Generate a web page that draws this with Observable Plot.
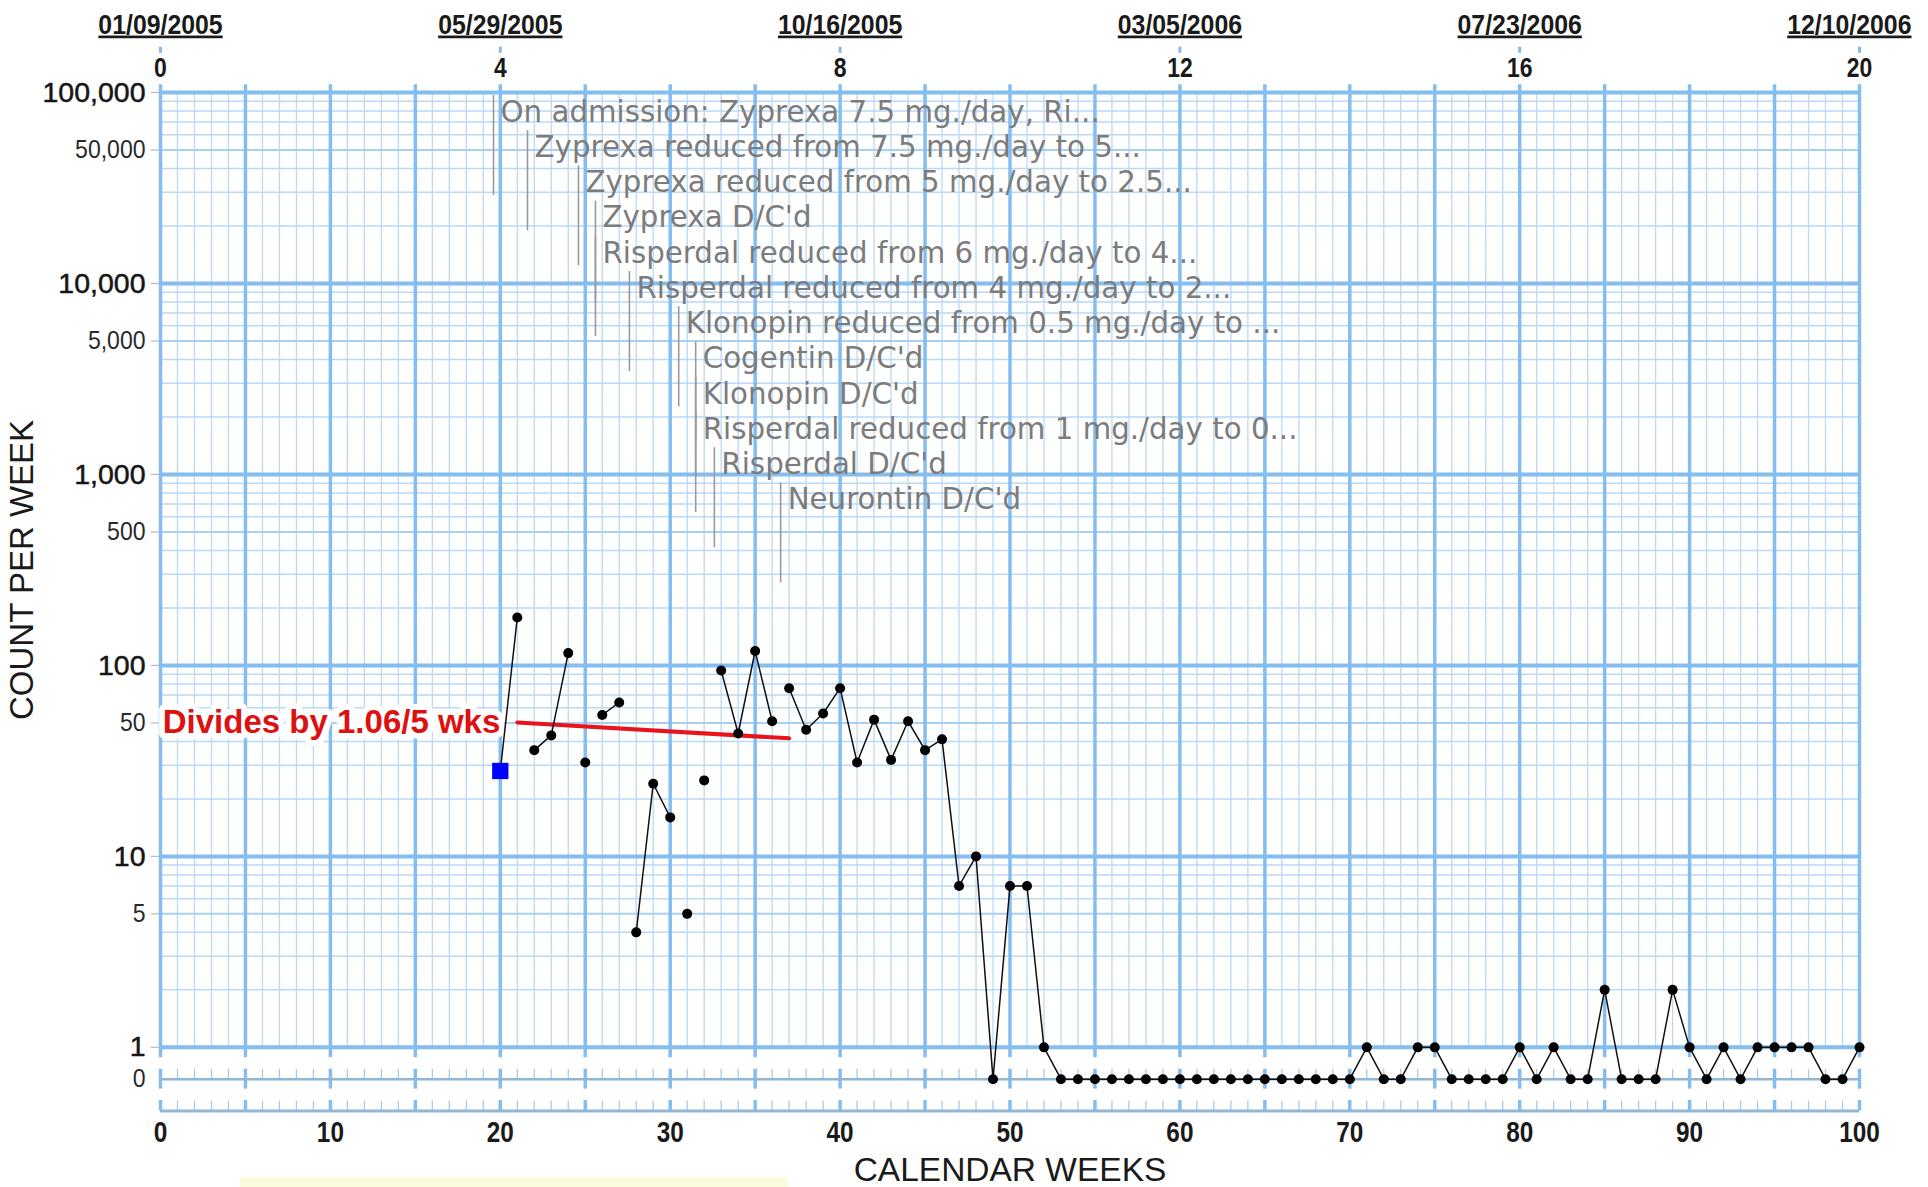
<!DOCTYPE html>
<html><head><meta charset="utf-8">
<script src="https://cdn.jsdelivr.net/npm/d3@7"></script>
<script src="https://cdn.jsdelivr.net/npm/@observablehq/plot@0.6"></script>
<style>
body{margin:0;background:#fff;}
#chart{position:relative;width:1928px;height:1187px;overflow:hidden;}
#chart svg{display:block;}
.note-box{position:absolute;left:240px;top:1177px;width:548px;height:14px;background:#fcfadc;}
</style></head><body><div id="chart"></div>
<script>
// ---------- data ----------
const weeks = [20,21,22,23,24,25,26,27,28,29,30,31,32,33,34,35,36,37,38,39,40,41,42,43,44,45,46,47,48,49,50,51,52,
  53,54,55,56,57,58,59,60,61,62,63,64,65,66,67,68,69,70,
  71,72,73,74,75,76,77,78,79,80,81,82,83,84,85,86,87,88,89,90,91,92,93,94,95,96,97,98,99,100];
const counts = [28,178,36,43,116,31,55,64,4,24,16,5,25,94,44,119,51,76,46,56,76,31,52,32,51,36,41,7,10,0,7,7,1,
  0,0,0,0,0,0,0,0,0,0,0,0,0,0,0,0,0,0,
  1,0,0,1,1,0,0,0,0,1,0,1,0,0,2,0,0,0,2,1,0,1,0,1,1,1,1,0,0,1];
// weeks where a new (unconnected) line segment begins
const segmentStarts = [20,22,25,26,28,31,32,33,37];

const celerationWeeks = [21, 37];
const celerationCounts = [50.3, 41.5];
const celerationLabel = "Divides by 1.06/5 wks";

const noteWeeks = [19.6, 21.6, 24.6, 25.6, 25.6, 27.6, 30.5, 31.5, 31.5, 31.5, 32.6, 36.5];
const noteTexts = [
  "On admission: Zyprexa 7.5 mg./day, Ri...",
  "Zyprexa reduced from 7.5 mg./day to 5...",
  "Zyprexa reduced from 5 mg./day to 2.5...",
  "Zyprexa D/C'd",
  "Risperdal reduced from 6 mg./day to 4...",
  "Risperdal reduced from 4 mg./day to 2...",
  "Klonopin reduced from 0.5 mg./day to ...",
  "Cogentin D/C'd",
  "Klonopin D/C'd",
  "Risperdal reduced from 1 mg./day to 0...",
  "Risperdal D/C'd",
  "Neurontin D/C'd"
];

const majorTicks = [1, 10, 100, 1000, 10000, 100000];
const majorLabels = ["1", "10", "100", "1,000", "10,000", "100,000"];
const minorTicks = [0, 5, 50, 500, 5000, 50000];
const minorLabels = ["0", "5", "50", "500", "5,000", "50,000"];
const bottomTicks = [0, 10, 20, 30, 40, 50, 60, 70, 80, 90, 100];
const topWeeks = [0, 20, 40, 60, 80, 100];
const topNumbers = ["0", "4", "8", "12", "16", "20"];
const topDates = ["01/09/2005", "05/29/2005", "10/16/2005", "03/05/2006", "07/23/2006", "12/10/2006"];
const xTitle = "CALENDAR WEEKS";
const yTitle = "COUNT PER WEEK";

// ---------- layout helpers ----------
const ZERO = -1/6;      // position of the "0" row (in decades below 1)
const BOTTOM = -1/3;
const pos = v => v > 0 ? Math.log10(v) : ZERO;

const data = weeks.map((w, i) => ({
  week: w, count: counts[i],
  seg: segmentStarts.filter(s => s <= w).length
}));
const celeration = celerationWeeks.map((w, i) => ({week: w, count: celerationCounts[i]}));
const notes = noteWeeks.map((w, i) => ({week: w, text: noteTexts[i], row: i}));
const ROW0 = 4.896, ROWSTEP = 0.1845;
const dateRows = topWeeks.map((w, i) => ({week: w, date: topDates[i]}));
const lastDate = dateRows.length - 1;

const allWeeks = d3.range(0, 101);
const fiveWeeks = allWeeks.filter(w => w % 5 === 0);
const thinWeeks = allWeeks.filter(w => w % 5 !== 0);
const logLines = [];
for (let k = 0; k < 5; k++) for (let m = 2; m <= 9; m++) logLines.push({v: m * 10 ** k, five: m === 5});
const decades = [0, 1, 2, 3, 4, 5];

const GRID_THIN = "#b9d9f5";
const GRID_MAJOR = "#84bdf0";
const ARIAL = "'Liberation Sans',Arial,Helvetica,sans-serif";
const NOTEFONT = "'DejaVu Sans',Verdana,sans-serif";
const dateStyle = {frameAnchor: "top", dy: -67.6, lineAnchor: "middle", ariaDescription: "dates",
  fontSize: 27, fontWeight: "bold", fontFamily: ARIAL, fill: "#1a1a1a"};

const chart = Plot.plot({
  width: 1928,
  height: 1187,
  marginLeft: 160,
  marginRight: 69,
  marginTop: 92,
  marginBottom: 76.5,
  style: {background: "#fff"},
  x: {domain: [0, 100], axis: null},
  y: {domain: [BOTTOM, 5], axis: null},
  marks: [
    // thin vertical week lines
    Plot.ruleX(thinWeeks, {x: d => d, y1: 0, y2: 5, stroke: GRID_THIN, strokeWidth: 1.3}),
    Plot.ruleX(thinWeeks, {x: d => d, y1: ZERO, y2: ZERO + 0.052, stroke: "#a9cbe8", strokeWidth: 1.3}),
    Plot.ruleX(thinWeeks, {x: d => d, y1: BOTTOM, y2: BOTTOM + 0.052, stroke: "#a9cbe8", strokeWidth: 1.3}),
    // horizontal log lines
    Plot.ruleY(logLines, {y: d => Math.log10(d.v), x1: 0, x2: 100, stroke: d => d.five ? "#a9d0f2" : GRID_THIN, strokeWidth: d => d.five ? 2 : 1.5}),
    Plot.ruleY(logLines.filter(d => d.five), {y: d => Math.log10(d.v), x1: -0.55, x2: 0, stroke: "#bbbbbb", strokeWidth: 1.2}),
    Plot.ruleY(decades, {y: d => d, x1: -0.55, x2: 0, stroke: "#bbbbbb", strokeWidth: 1.2}),
    // 5-week vertical lines
    Plot.ruleX(fiveWeeks, {x: d => d, y1: -0.055, y2: 5.04, stroke: GRID_MAJOR, strokeWidth: 3.5}),
    Plot.ruleX(fiveWeeks, {x: d => d, y1: ZERO - 0.052, y2: ZERO + 0.052, stroke: GRID_MAJOR, strokeWidth: 3.5}),
    Plot.ruleX(fiveWeeks, {x: d => d, y1: BOTTOM, y2: BOTTOM + 0.055, stroke: GRID_MAJOR, strokeWidth: 3.5}),
    // decade lines
    Plot.ruleY(decades, {y: d => d, x1: 0, x2: 100, stroke: GRID_MAJOR, strokeWidth: 4}),
    Plot.ruleY([ZERO], {y: d => d, x1: 0, x2: 100, stroke: "#8fb5d8", strokeWidth: 2.5}),
    Plot.ruleY([BOTTOM], {y: d => d, x1: 0, x2: 100, stroke: "#8fb7dc", strokeWidth: 3}),
    // top axis small ticks
    Plot.ruleX(topWeeks, {x: d => d, y1: 5.205, y2: 5.237, stroke: "#8ab8e6", strokeWidth: 3}),

    // annotation lines and texts
    Plot.ruleX(notes, {x: "week", y1: d => ROW0 - d.row * ROWSTEP + 0.089, y2: d => ROW0 - d.row * ROWSTEP - 0.435, stroke: "#9a9a9a", strokeWidth: 1.6}),
    Plot.text(notes, {x: "week", y: d => ROW0 - d.row * ROWSTEP, text: "text", textAnchor: "start", lineAnchor: "middle", dx: 7,
      fill: "#7c7c7c", fontSize: 29.3, fontFamily: NOTEFONT}),

    // y tick labels
    Plot.text(majorTicks, {y: d => Math.log10(d), text: (d, i) => majorLabels[i], frameAnchor: "left", dx: -15, textAnchor: "end", lineAnchor: "middle",
      fontSize: 28.5, fontFamily: ARIAL, fill: "#151515", stroke: "#151515", strokeWidth: 0.5}),
    Plot.text(minorTicks, {y: d => pos(d), text: (d, i) => minorLabels[i], frameAnchor: "left", dx: -15, textAnchor: "end", lineAnchor: "middle",
      ariaDescription: "minor-labels", fontSize: 25, fontFamily: ARIAL, fill: "#2a2a2a"}),
    // bottom tick labels
    Plot.text(bottomTicks, {x: d => d, text: d => String(d), frameAnchor: "bottom", dy: 22, lineAnchor: "middle", ariaDescription: "bottom-labels",
      fontSize: 29, fontWeight: "bold", fontFamily: ARIAL, fill: "#1a1a1a"}),
    // top axis
    Plot.text(topWeeks, {x: d => d, text: (d, i) => topNumbers[i], frameAnchor: "top", dy: -24.6, lineAnchor: "middle", ariaDescription: "top-numbers",
      fontSize: 28, fontWeight: "bold", fontFamily: ARIAL, fill: "#1a1a1a"}),
    Plot.text(dateRows.slice(0, lastDate), {x: "week", text: "date", ...dateStyle}),
    // last date sits against the right edge: anchored at its end
    Plot.text(dateRows.slice(lastDate), {x: "week", text: "date", ...dateStyle, textAnchor: "end", dx: 52}),
    // axis titles
    Plot.text([xTitle], {x: 50, text: d => d, frameAnchor: "bottom", dy: 59, lineAnchor: "middle", textAnchor: "middle",
      fontSize: 33.5, fontFamily: ARIAL, fill: "#1a1a1a"}),
    Plot.text([yTitle], {y: 2.5, text: d => d, frameAnchor: "left", dx: -138, rotate: -90, textAnchor: "middle", lineAnchor: "middle",
      fontSize: 33, fontFamily: ARIAL, fill: "#1a1a1a"}),

    // celeration line + label
    Plot.line(celeration, {x: "week", y: d => Math.log10(d.count), stroke: "#e8141c", strokeWidth: 4}),
    Plot.text([celerationLabel], {x: weeks[0], y: Math.log10(50), text: d => d, textAnchor: "end", lineAnchor: "middle", dx: 0,
      fontSize: 33, fontWeight: "bold", fontFamily: ARIAL, fill: "#dd1111", stroke: "white", strokeWidth: 12, letterSpacing: "-0.4px"}),

    // data
    Plot.line(data, {x: "week", y: d => pos(d.count), z: "seg", stroke: "#111", strokeWidth: 1.5}),
    Plot.dot(data.slice(1), {x: "week", y: d => pos(d.count), r: 5, fill: "#000", stroke: "none"}),
    Plot.dot(data.slice(0, 1), {x: "week", y: d => pos(d.count), symbol: "square", r: 9.2, fill: "#0000ff"})
  ]
});

const holder = document.getElementById("chart");
holder.appendChild(chart);
const box = document.createElement("div");
box.className = "note-box";
holder.appendChild(box);

// narrow (condensed) look for some label groups
function group(desc) {
  return d3.select(chart).selectAll("g").filter(function() { return this.getAttribute("aria-description") === desc; });
}
function narrow(desc, factor) {
  group(desc).selectAll("text").each(function() {
    const len = this.getComputedTextLength();
    this.setAttribute("textLength", (len * factor).toFixed(1));
    this.setAttribute("lengthAdjust", "spacingAndGlyphs");
  });
}
narrow("dates", 0.92);
narrow("top-numbers", 0.82);
narrow("bottom-labels", 0.84);
narrow("minor-labels", 0.92);
group("dates").selectAll("text").style("text-decoration", "underline");
d3.select(chart).selectAll("text").style("paint-order", "stroke");
</script>
</body></html>
